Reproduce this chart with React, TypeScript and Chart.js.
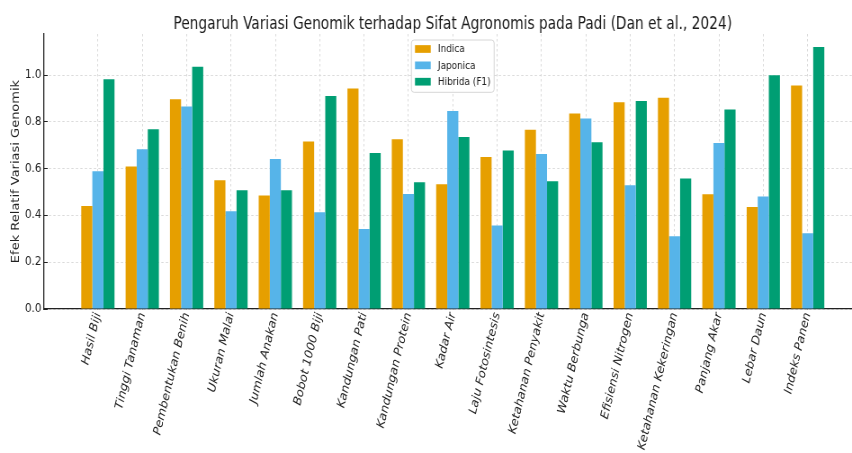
import React, { useEffect, useRef } from "react";
import { Chart, registerables } from "chart.js";

Chart.register(...registerables);

const titleText = "Pengaruh Variasi Genomik terhadap Sifat Agronomis pada Padi (Dan et al., 2024)";
const yAxisTitle = "Efek Relatif Variasi Genomik";

const categories = [
  "Hasil Biji",
  "Tinggi Tanaman",
  "Pembentukan Benih",
  "Ukuran Malai",
  "Jumlah Anakan",
  "Bobot 1000 Biji",
  "Kandungan Pati",
  "Kandungan Protein",
  "Kadar Air",
  "Laju Fotosintesis",
  "Ketahanan Penyakit",
  "Waktu Berbunga",
  "Efisiensi Nitrogen",
  "Ketahanan Kekeringan",
  "Panjang Akar",
  "Lebar Daun",
  "Indeks Panen",
];

const seriesNames = ["Indica", "Japonica", "Hibrida (F1)"];
const indica = [0.441, 0.609, 0.897, 0.551, 0.485, 0.716, 0.943, 0.726, 0.533, 0.65, 0.767, 0.836, 0.884, 0.903, 0.491, 0.436, 0.956];
const japonica = [0.589, 0.683, 0.866, 0.418, 0.641, 0.414, 0.342, 0.492, 0.847, 0.357, 0.663, 0.815, 0.529, 0.311, 0.71, 0.481, 0.324];
const hibrida = [0.983, 0.769, 1.036, 0.508, 0.508, 0.911, 0.667, 0.542, 0.736, 0.678, 0.546, 0.713, 0.89, 0.558, 0.853, 1.0, 1.12];
const yTicks = [0, 0.2, 0.4, 0.6, 0.8, 1.0];

const colors = ["#E69F00", "#56B4E9", "#009E73"];

// The reference image is horizontally compressed; render wider and squeeze with CSS.
const SQUEEZE = 0.9;
const VIEW_W = 852;
const VIEW_H = 453;
const CANVAS_W = Math.round(VIEW_W / SQUEEZE);

const condensed = "'DejaVu Sans Condensed', 'DejaVu Sans', sans-serif";

const axesTitle = {
  id: "axesTitle",
  afterDraw(chart: any) {
    const { ctx } = chart;
    const xs = chart.scales.x;
    const cx = xs.getPixelForValue((xs.min + 17.2125) / 2);
    ctx.save();
    ctx.font = `17px ${condensed}`;
    ctx.fillStyle = "#1a1a1a";
    ctx.textAlign = "center";
    ctx.textBaseline = "alphabetic";
    ctx.fillText(titleText, cx, 29);
    ctx.restore();
  },
};

const insideLegend = {
  id: "insideLegend",
  afterDatasetsDraw(chart: any) {
    const { ctx, chartArea } = chart;
    const xs = chart.scales.x;
    ctx.save();
    ctx.font = `11px ${condensed}`;
    const textW = Math.max(...seriesNames.map((n) => ctx.measureText(n).width));
    const patchW = 17.5;
    const patchH = 7.7;
    const padL = 4;
    const gap = 8;
    const padR = 4;
    const rowH = 16.35;
    const boxW = padL + patchW + gap + textW + padR;
    const boxH = 52.3;
    const cx = xs.getPixelForValue((xs.min + 17.2125) / 2);
    const x0 = cx - boxW / 2;
    const y0 = chartArea.top + 6;
    ctx.beginPath();
    ctx.roundRect(x0, y0, boxW, boxH, 3);
    ctx.fillStyle = "rgba(255,255,255,0.85)";
    ctx.fill();
    ctx.strokeStyle = "#d6d6d6";
    ctx.lineWidth = 1;
    ctx.stroke();
    seriesNames.forEach((name, i) => {
      const cy = y0 + 9 + i * rowH;
      ctx.fillStyle = colors[i];
      ctx.fillRect(x0 + padL, cy - patchH / 2, patchW, patchH);
      ctx.fillStyle = "#222";
      ctx.textBaseline = "middle";
      ctx.textAlign = "left";
      ctx.fillText(name, x0 + padL + patchW + gap, cy + 0.5);
    });
    ctx.restore();
  },
};

export default function App() {
  const ref = useRef<HTMLCanvasElement>(null);
  useEffect(() => {
    if (!ref.current) return;
    const datasets = [indica, japonica, hibrida].map((vals, i) => ({
      label: seriesNames[i],
      data: vals.map((v, k) => ({ x: k, y: v })),
      backgroundColor: colors[i],
      borderWidth: 0,
      categoryPercentage: 0.75,
      barPercentage: 1.0,
    }));
    const chart = new Chart(ref.current, {
      type: "bar",
      data: { datasets },
      plugins: [insideLegend, axesTitle],
      options: {
        animation: false,
        responsive: false,
        devicePixelRatio: 1,
        layout: { padding: { top: 34, left: 0, right: 0, bottom: 0 } },
        plugins: {
          legend: { display: false },
          tooltip: { enabled: false },
          title: { display: false },
        },
        scales: {
          x: {
            type: "linear",
            min: -1.2125,
            max: 17.0,
            offset: false,
            afterBuildTicks: (scale: any) => {
              scale.ticks = categories.map((_, i) => ({ value: i }));
            },
            afterFit: (scale: any) => {
              scale.height = 144;
            },
            ticks: {
              autoSkip: false,
              maxRotation: 75,
              minRotation: 75,
              padding: 6,
              color: "#222",
              font: { family: "'DejaVu Sans', sans-serif", size: 12.5, style: "italic" },
              callback: (v: any) => categories[v] ?? "",
            },
            grid: {
              offset: false,
              color: "#d0d0d0",
              lineWidth: 0.8,
              drawTicks: true,
              tickLength: -4,
              tickColor: "#222",
              tickWidth: 1,
            },
            border: { display: true, color: "#222", width: 1.3, dash: [2.5, 2.5] },
          },
          y: {
            type: "linear",
            min: 0,
            max: 1.176,
            afterBuildTicks: (scale: any) => {
              scale.ticks = yTicks.map((v) => ({ value: v }));
            },
            afterFit: (scale: any) => {
              scale.width = 49;
            },
            ticks: {
              padding: 7,
              color: "#222",
              font: { family: "'DejaVu Sans', sans-serif", size: 11.5 },
              callback: (v: any) => Number(v).toFixed(1),
            },
            grid: {
              color: "#d0d0d0",
              lineWidth: 0.8,
              drawTicks: true,
              tickLength: -4,
              tickColor: "#222",
              tickWidth: 1,
            },
            border: { display: true, color: "#222", width: 1.3, dash: [2.5, 2.5] },
            title: {
              display: true,
              text: yAxisTitle,
              color: "#222",
              font: { family: "'DejaVu Sans', sans-serif", size: 13 },
              padding: { top: 10, bottom: 0 },
            },
          },
        },
      } as any,
    });
    return () => chart.destroy();
  }, []);
  return (
    <div style={{ position: "absolute", left: 0, top: 0, width: VIEW_W, height: VIEW_H, overflow: "hidden" }}>
      <canvas
        ref={ref}
        width={CANVAS_W}
        height={VIEW_H}
        style={{ width: VIEW_W, height: VIEW_H, display: "block" }}
      />
    </div>
  );
}
